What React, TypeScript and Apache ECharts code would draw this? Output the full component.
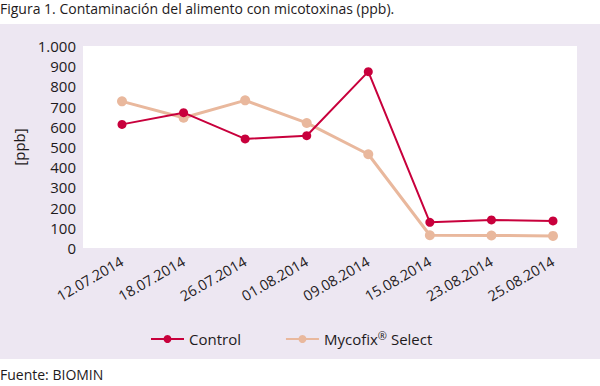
import React, { useEffect, useRef } from "react";
import * as echarts from "echarts";

const categories = ["12.07.2014", "18.07.2014", "26.07.2014", "01.08.2014", "09.08.2014", "15.08.2014", "23.08.2014", "25.08.2014"];
const controlValues = [612, 670, 540, 556, 873, 127, 139, 134];
const mycofixValues = [726, 645, 731, 619, 464, 63, 62, 60];
const seriesNames = ["Control", "Mycofix® Select"];

const FONT = "'Open Sans', sans-serif";
const INK = "#1e1a1c";

export default function App() {
  const ref = useRef<HTMLDivElement>(null);
  useEffect(() => {
    if (!ref.current) return;
    const chart = echarts.init(ref.current, null, { renderer: "svg" });
    chart.setOption({
      animation: false,
      textStyle: { fontFamily: FONT },
      graphic: [
        { type: "rect", z: -10, shape: { x: 0, y: 24, width: 600, height: 335 }, style: { fill: "#ede7f2" } },
        { type: "rect", z: -9, shape: { x: 83, y: 46, width: 494, height: 202 }, style: { fill: "#ffffff" } },
        { type: "text", left: 0, top: 1, style: { text: "Figura 1. Contaminación del alimento con micotoxinas (ppb).", fontSize: 14, fontFamily: FONT, fill: INK } },
        { type: "text", left: 0, top: 367, style: { text: "Fuente: BIOMIN", fontSize: 14, fontFamily: FONT, fill: INK } },
      ],
      legend: {
        left: 150,
        top: 330,
        padding: 0,
        itemWidth: 33,
        itemHeight: 10,
        itemGap: 44,
        formatter: (name: string) => name.replace("®", "{sup|®}"),
        textStyle: {
          fontSize: 15,
          color: INK,
          fontFamily: FONT,
          rich: { sup: { fontSize: 11, verticalAlign: "top", padding: [0, 0, 7, 0], color: INK, fontFamily: FONT } },
        },
        data: seriesNames,
      },
      grid: { left: 122, right: 47, top: 46, bottom: 138 },
      xAxis: {
        type: "category",
        data: categories,
        boundaryGap: false,
        axisLine: { show: false },
        axisTick: { show: false },
        axisLabel: { rotate: 30, margin: 12, fontSize: 14.5, color: INK, fontFamily: FONT, interval: 0 },
      },
      yAxis: {
        type: "value",
        min: 0,
        max: 1000,
        interval: 100,
        name: "[ppb]",
        nameLocation: "middle",
        nameGap: 92,
        nameTextStyle: { fontSize: 15, color: INK, fontFamily: FONT },
        axisLine: { show: false },
        axisTick: { show: false },
        splitLine: { show: false },
        axisLabel: {
          margin: 46,
          fontSize: 15,
          color: INK,
          fontFamily: FONT,
          formatter: (v: number) => (v >= 1000 ? Math.floor(v / 1000) + "." + String(v % 1000).padStart(3, "0") : String(v)),
        },
      },
      series: [
        {
          name: seriesNames[0],
          type: "line",
          data: controlValues,
          symbol: "circle",
          symbolSize: 9,
          lineStyle: { width: 2, color: "#c8003c" },
          itemStyle: { color: "#c8003c" },
          z: 3,
        },
        {
          name: seriesNames[1],
          type: "line",
          data: mycofixValues,
          symbol: "circle",
          symbolSize: 10,
          lineStyle: { width: 3, color: "#e9b89d" },
          itemStyle: { color: "#e9b89d" },
          z: 2,
        },
      ],
    });
    return () => chart.dispose();
  }, []);
  return <div ref={ref} style={{ width: 600, height: 386, position: "absolute", left: 0, top: 0 }} />;
}
